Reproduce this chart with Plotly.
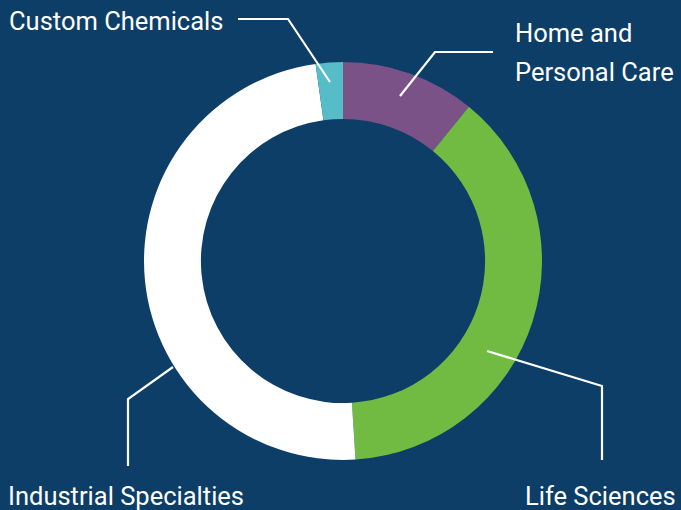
import plotly.graph_objects as go

W, H = 681, 510

segments = ["Home and Personal Care", "Life Sciences", "Industrial Specialties", "Custom Chemicals"]
shares = [10.9, 38.1, 48.8, 2.2]
colors = ["#7a5288", "#71bb43", "#ffffff", "#56bcc7"]
label_lines = [["Home and", "Personal Care"], ["Life Sciences"], ["Industrial Specialties"], ["Custom Chemicals"]]

BG = "#0c3e68"
FONT = "Roboto"

def px(x):
    return x / W

def py(y):
    return 1 - y / H

cx, cy, R = 343, 261, 199

fig = go.Figure(go.Pie(
    labels=segments,
    values=shares,
    sort=False,
    direction="clockwise",
    rotation=0,
    hole=0.714,
    marker=dict(colors=colors, line=dict(width=0)),
    textinfo="none",
    hoverinfo="label+percent",
    showlegend=False,
    domain=dict(x=[px(cx - R), px(cx + R)], y=[py(cy + R), py(cy - R)]),
))

# leader lines (pixel paths)
leaders = [
    [(400, 96), (435, 52), (493, 52)],
    [(487, 351), (602, 386), (602, 460)],
    [(173, 367), (128, 399), (128, 466)],
    [(330, 82), (288, 19), (238, 19)],
]
shapes = []
for pts in leaders:
    path = "M " + " L ".join(f"{px(x):.5f},{py(y):.5f}" for x, y in pts)
    shapes.append(dict(type="path", xref="paper", yref="paper", path=path,
                       line=dict(color="white", width=2.2)))

ann_pos = [
    (513, 33, "left"),
    (678, 496, "right"),
    (6, 496, "left"),
    (7, 21, "left"),
]
LINE_GAP = 39
annotations = []
for lines, (x, y, xa) in zip(label_lines, ann_pos):
    for i, t in enumerate(lines):
        annotations.append(dict(text=t, x=px(x), y=py(y + i * LINE_GAP), xref="paper", yref="paper",
                                xanchor=xa, yanchor="middle", align="left", showarrow=False,
                                font=dict(family=FONT, size=25.5, color="white")))

fig.update_layout(
    width=W, height=H,
    margin=dict(l=0, r=0, t=0, b=0),
    paper_bgcolor=BG, plot_bgcolor=BG,
    shapes=shapes, annotations=annotations,
)

fig.write_html("out.html", config={"displayModeBar": False},
               post_script="document.body.style.margin='0';document.body.style.overflow='hidden';")
